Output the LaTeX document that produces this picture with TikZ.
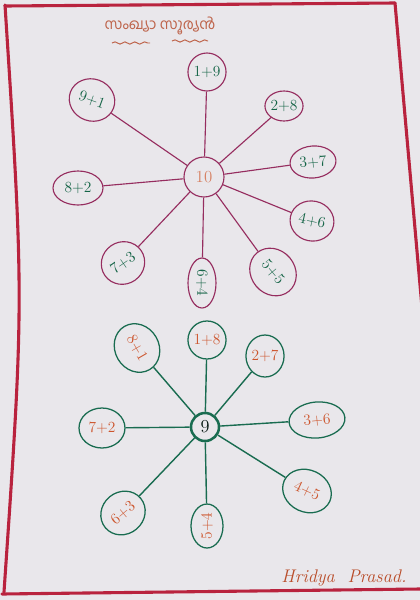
\documentclass[tikz,border=0pt]{standalone}
\usepackage{fontspec}
\newfontfamily\mlfont[Script=Malayalam]{Hind Kochi}
\usetikzlibrary{shapes.geometric,decorations.pathmorphing}
\definecolor{paper}{RGB}{233,231,235}
\definecolor{pagered}{RGB}{185,35,62}
\definecolor{plum}{RGB}{150,45,95}
\definecolor{pine}{RGB}{25,108,80}
\definecolor{leaf}{RGB}{20,100,70}
\definecolor{rust}{RGB}{205,85,45}
\definecolor{peach}{RGB}{215,130,100}
\definecolor{ink}{RGB}{190,100,75}

\begin{document}
\begin{tikzpicture}[x=0.025cm,y=-0.025cm]
\tikzstyle{every node}+=[inner sep=0pt,font=\fontsize{11}{13}\selectfont]
\tikzstyle{border}=[pagered,line width=2.2pt,line cap=round]
\tikzstyle{topegg}=[ellipse,draw=plum,line width=0.8pt,text=leaf]
\tikzstyle{lowegg}=[ellipse,draw=pine,line width=0.9pt,text=rust]
\tikzstyle{topray}=[plum,line width=0.8pt]
\tikzstyle{lowray}=[pine,line width=1pt]
\useasboundingbox (0,0) rectangle (420,600);
\fill [paper] (0,0) rectangle (420,600);
\draw [border] (395,3) -- (5,6);
\draw [border] (5,5) .. controls (24,300) .. (4,592);
\draw [border] (395,3) -- (424,330);
\draw [border] (2,594) -- (420,589);
\node [ink,font=\fontsize{10.5}{12}\selectfont] (title) at (160,26) {\mlfont സംഖ്യാ സൂര്യൻ};
\draw [ink,line width=0.7pt,decorate,decoration={snake,amplitude=0.8pt,segment length=7pt}] (112,43) -- (150,43);
\draw [ink,line width=0.7pt,decorate,decoration={snake,amplitude=0.8pt,segment length=7pt}] (172,41) -- (208,41);
\node [circle,draw=plum,line width=0.8pt,minimum size=40*0.025cm,text=peach,font=\fontsize{12}{14}\selectfont] (n10) at (204,177) {10};
\node [topegg,minimum width=30*0.025cm,minimum height=38*0.025cm] (t1) at (207,72) {1+9};
\node [topegg,minimum width=34*0.025cm,minimum height=30*0.025cm] (t2) at (284,106) {2+8};
\node [topegg,minimum width=46*0.025cm,minimum height=32*0.025cm,rotate=5] (t3) at (313,162) {3+7};
\node [topegg,minimum width=44*0.025cm,minimum height=40*0.025cm,rotate=-12] (t4) at (312,221) {4+6};
\node [topegg,minimum width=50*0.025cm,minimum height=44*0.025cm,rotate=-50] (t5) at (273,272) {5+5};
\node [topegg,minimum width=50*0.025cm,minimum height=28*0.025cm,rotate=-90] (t6) at (202,283) {6+4};
\node [topegg,minimum width=44*0.025cm,minimum height=42*0.025cm,rotate=35] (t7) at (123,263) {7+3};
\node [topegg,minimum width=50*0.025cm,minimum height=34*0.025cm] (t8) at (78,188) {8+2};
\node [topegg,minimum width=46*0.025cm,minimum height=42*0.025cm,rotate=-20] (t9) at (92,100) {9+1};
\draw [topray] (n10) -- (t1);
\draw [topray] (n10) -- (t2);
\draw [topray] (n10) -- (t3);
\draw [topray] (n10) -- (t4);
\draw [topray] (n10) -- (t5);
\draw [topray] (n10) -- (t6);
\draw [topray] (n10) -- (t7);
\draw [topray] (n10) -- (t8);
\draw [topray] (n10) -- (t9);
\node [circle,draw=pine,line width=1.8pt,minimum size=28*0.025cm,text=black!80!pine,font=\fontsize{13}{15}\selectfont] (n9) at (205,427) {9};
\node [lowegg,minimum width=30*0.025cm,minimum height=38*0.025cm] (b1) at (207,340) {1+8};
\node [lowegg,minimum width=34*0.025cm,minimum height=42*0.025cm] (b2) at (265,356) {2+7};
\node [lowegg,minimum width=56*0.025cm,minimum height=36*0.025cm,rotate=5] (b3) at (317,420) {3+6};
\node [lowegg,minimum width=50*0.025cm,minimum height=42*0.025cm,rotate=-25] (b4) at (307,491) {4+5};
\node [lowegg,minimum width=44*0.025cm,minimum height=32*0.025cm,rotate=90] (b5) at (207,526) {5+4};
\node [lowegg,minimum width=46*0.025cm,minimum height=42*0.025cm,rotate=40] (b6) at (123,513) {6+3};
\node [lowegg,minimum width=46*0.025cm,minimum height=40*0.025cm] (b7) at (102,428) {7+2};
\node [lowegg,minimum width=50*0.025cm,minimum height=44*0.025cm,rotate=-60] (b8) at (137,348) {8+1};
\draw [lowray] (n9) -- (b1);
\draw [lowray] (n9) -- (b2);
\draw [lowray] (n9) -- (b3);
\draw [lowray] (n9) -- (b4);
\draw [lowray] (n9) -- (b5);
\draw [lowray] (n9) -- (b6);
\draw [lowray] (n9) -- (b7);
\draw [lowray] (n9) -- (b8);
\node [rust!90!black,font=\fontsize{13}{15}\selectfont\itshape] (name) at (344,578) {Hridya\ \ Prasad.};
\end{tikzpicture}
\end{document}
